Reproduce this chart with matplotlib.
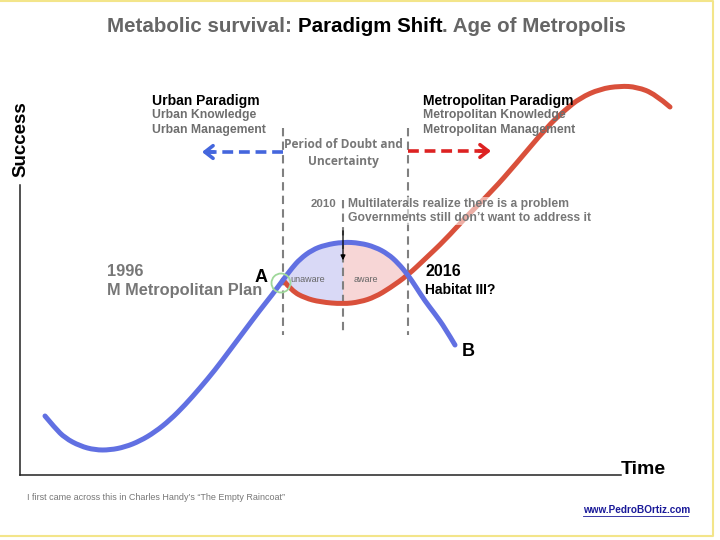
import matplotlib
matplotlib.use("Agg")
import matplotlib.pyplot as plt
from matplotlib.patches import Circle, PathPatch
from matplotlib.path import Path

# ---- data (chart units: x = time, y = success, y axis inverted like screen) ----
blue_x = [45, 55, 65, 80, 95, 110, 125, 140, 155, 170, 185, 200, 215, 230, 245, 260, 272, 283,
          292, 300, 312, 325, 343, 360, 375, 388, 398, 408, 416, 425, 435, 445, 455]
blue_y = [416, 428, 438, 446, 450, 450, 447, 441, 432, 420, 405, 388, 370, 350, 330, 310, 295, 280,
          268, 259, 250, 245, 242, 243, 247, 254, 263, 275, 287, 301, 314, 328, 345]
red_x = [283, 292, 305, 320, 343, 360, 375, 390, 408, 425, 445, 465, 493, 515, 547, 565, 580,
         600, 620, 637, 655, 670]
red_y = [280, 291, 298, 302, 304, 302, 297, 288, 275, 259, 240, 218, 190, 165, 127, 110, 98,
         89, 86, 87, 94, 107]
phase_x = [283, 343, 408]          # A, 2010, 2016
phase_labels = ["unaware", "aware"]

title_parts = [("Metabolic survival: ", "#666666"), ("Paradigm Shift", "black"),
               (". Age of Metropolis", "#666666")]

BLUE = "#6170e2"
RED = "#d9503b"
GRAY = "#6e6e6e"


def smooth_path(xs, ys):
    """Quadratic Bezier path using data points as control points (midpoints as anchors)."""
    pts = list(zip(xs, ys))
    verts = [pts[0]]
    codes = [Path.MOVETO]
    for i in range(1, len(pts) - 1):
        mid = ((pts[i][0] + pts[i + 1][0]) / 2, (pts[i][1] + pts[i + 1][1]) / 2)
        if i == len(pts) - 2:
            mid = pts[-1]
        verts += [pts[i], mid]
        codes += [Path.CURVE3, Path.CURVE3]
    return Path(verts, codes)


fig = plt.figure(figsize=(7.2, 5.4), dpi=100)
ax = fig.add_axes([0, 0, 1, 1])
ax.set_xlim(0, 720)
ax.set_ylim(540, 0)
ax.axis("off")

SANS = ["Liberation Sans", "DejaVu Sans"]

# yellow frame
ax.plot([0, 713, 713, 0], [1, 1, 536, 536], color="#f3e58a", lw=1.5, solid_capstyle="butt")

# title
t = ax.text(107, 27, title_parts[0][0], color=title_parts[0][1], fontsize=14.8,
            fontweight="bold", family=SANS, va="center", ha="left")
for s, c in title_parts[1:]:
    t = ax.annotate(s, xy=(1, 0), xycoords=t, va="bottom", ha="left", color=c,
                    fontsize=14.8, fontweight="bold", family=SANS)

# axes lines
ax.plot([20, 20], [185, 475], color="#222222", lw=1.1)
ax.plot([20, 621], [475, 475], color="#222222", lw=1.1)
ax.text(21, 139, "Success", rotation=90, ha="center", va="center", fontsize=13.5,
        fontweight="bold", family=SANS)
ax.text(621, 469, "Time", ha="left", va="center", fontsize=14, fontweight="bold", family=SANS)

# fills between curves
def seg(xs, ys, lo, hi):
    return [(x, y) for x, y in zip(xs, ys) if lo <= x <= hi]

for (lo, hi), col in zip([(phase_x[0], phase_x[1]), (phase_x[1], phase_x[2])], ["#d9d9f6", "#f7d6d6"]):
    top = seg(blue_x, blue_y, lo, hi)
    bot = seg(red_x, red_y, lo, hi)[::-1]
    pts = top + bot
    ax.fill([p[0] for p in pts], [p[1] for p in pts], color=col, lw=0, zorder=1)

# dashed verticals
for x0, y0 in zip(phase_x, [128, 200, 128]):
    ax.plot([x0, x0], [y0, 335], color="#808080", lw=1.5, ls=(0, (4, 2.5)), zorder=2)

# curves
ax.add_patch(PathPatch(smooth_path(red_x, red_y), fill=False, ec=RED, lw=3.6,
                       capstyle="round", joinstyle="round", zorder=3))
ax.add_patch(PathPatch(smooth_path(blue_x, blue_y), fill=False, ec=BLUE, lw=3.6,
                       capstyle="round", joinstyle="round", zorder=4))

# green circle at A
ax.add_patch(Circle((phase_x[0] - 2, 283), 9.5, fill=False, ec="#9fd89a", lw=1.3, zorder=5))

# 2010 arrow
ax.annotate("", xy=(phase_x[1], 263), xytext=(phase_x[1], 228),
            arrowprops=dict(arrowstyle="-|>", color="black", lw=0.9, mutation_scale=7), zorder=6)

# paradigm arrows: dashed shaft + solid chevron head
ax.plot([phase_x[0], 206], [152, 152], color="#4466dd", lw=2.6, ls=(0, (3, 1.6)),
        solid_capstyle="butt")
ax.annotate("", xy=(202, 152), xytext=(214, 152),
            arrowprops=dict(arrowstyle="->,head_length=0.45,head_width=0.35", color="#4466dd",
                            lw=2.6, mutation_scale=13, shrinkA=0, shrinkB=0))
ax.plot([phase_x[2], 487], [151, 151], color="#dd2222", lw=2.6, ls=(0, (3, 1.6)),
        solid_capstyle="butt")
ax.annotate("", xy=(491, 151), xytext=(479, 151),
            arrowprops=dict(arrowstyle="->,head_length=0.45,head_width=0.35", color="#dd2222",
                            lw=2.6, mutation_scale=13, shrinkA=0, shrinkB=0))

# texts
ax.text(152, 101, "Urban Paradigm", fontsize=10, fontweight="bold", family=SANS, va="center")
ax.text(152, 115, "Urban Knowledge", fontsize=8.8, fontweight="bold", color=GRAY, family=SANS, va="center")
ax.text(152, 130, "Urban Management", fontsize=8.8, fontweight="bold", color=GRAY, family=SANS, va="center")
ax.text(423, 101, "Metropolitan Paradigm", fontsize=10, fontweight="bold", family=SANS, va="center")
ax.text(423, 115, "Metropolitan Knowledge", fontsize=8.8, fontweight="bold", color=GRAY, family=SANS, va="center", zorder=5)
ax.text(423, 130, "Metropolitan Management", fontsize=8.8, fontweight="bold", color=GRAY, family=SANS, va="center", zorder=5)

ax.text(343, 145, "Period of Doubt and", fontsize=8.6, fontweight="bold", color="#777777",
        family=["Open Sans", "DejaVu Sans"], ha="center", va="center")
ax.text(343, 161, "Uncertainty", fontsize=8.6, fontweight="bold", color="#777777",
        family=["Open Sans", "DejaVu Sans"], ha="center", va="center")

ax.text(336, 204, "2010", fontsize=8.2, fontweight="bold", color="#777777", family=SANS, ha="right", va="center")
ax.text(348, 204, "Multilaterals realize there is a problem", fontsize=8.7, fontweight="bold",
        color="#777777", family=SANS, va="center", zorder=5,
        bbox=dict(boxstyle="square,pad=0.1", fc="white", ec="none", alpha=0.55))
ax.text(348, 218, "Governments still don\u2019t want to address it", fontsize=8.7, fontweight="bold",
        color="#777777", family=SANS, va="center", zorder=5,
        bbox=dict(boxstyle="square,pad=0.1", fc="white", ec="none", alpha=0.55))

ax.text(290, 280, phase_labels[0], fontsize=6.5, color="#666666", family=SANS, va="center", zorder=6)
ax.text(354, 280, phase_labels[1], fontsize=6.5, color="#666666", family=SANS, va="center", zorder=6)

ax.text(255, 278, "A", fontsize=13, fontweight="bold", family=SANS, va="center")
ax.text(462, 351, "B", fontsize=13, fontweight="bold", family=SANS, va="center")

ax.text(107, 272, "1996", fontsize=11.8, fontweight="bold", color="#777777", family=SANS, va="center")
ax.text(107, 291, "M Metropolitan Plan", fontsize=11.8, fontweight="bold", color="#777777", family=SANS, va="center")
ax.text(425, 271, "2016", fontsize=11.5, fontweight="bold", family=SANS, va="center")
ax.text(425, 290, "Habitat III?", fontsize=10, fontweight="bold", family=SANS, va="center")

ax.text(27, 497, "I first came across this in Charles Handy\u2019s \u201cThe Empty Raincoat\u201d",
        fontsize=6.5, color="#777777", family=SANS, va="center")
ax.text(583, 510, "www.PedroBOrtiz.com", fontsize=7.2, color="#1a1a99", family=SANS,
        va="center", fontweight="bold")
ax.plot([583, 688], [515.5, 515.5], color="#1a1a99", lw=0.6)

fig.savefig("out.png", dpi=100)
